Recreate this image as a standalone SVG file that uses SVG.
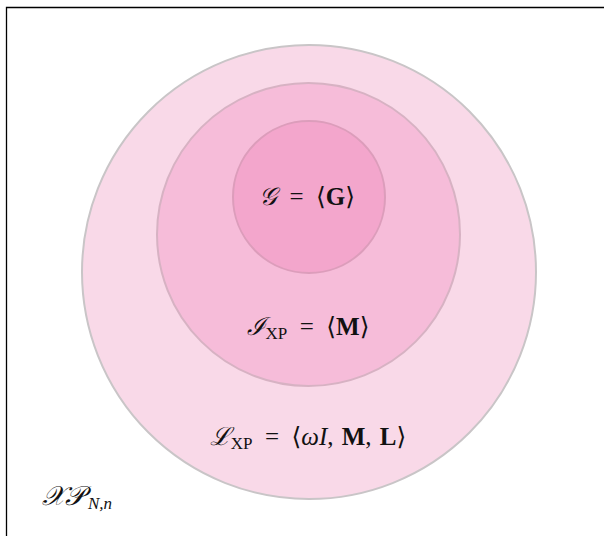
<svg xmlns="http://www.w3.org/2000/svg" width="604" height="536" viewBox="0 0 604 536">
<style>
.m{font-family:"Liberation Serif","DejaVu Serif",serif;font-size:25px;fill:#111}
.b{font-weight:bold}
.s{font-family:"Liberation Serif",serif;font-size:17px}
.sc{font-family:"DejaVu Serif",serif;font-style:italic}
</style>
<rect x="0" y="0" width="604" height="536" fill="#fff"/>
<path d="M6.5 536 V7.5 H604" fill="none" stroke="#000" stroke-width="1.3"/>
<g id="outer">
<circle cx="309" cy="272" r="227" fill="#f9d9e8" stroke="#c9c5c7" stroke-width="2"/>
<text class="m" x="308" y="445" text-anchor="middle"><tspan class="sc">ℒ</tspan><tspan class="s" dy="4">XP</tspan><tspan dy="-4" xml:space="preserve">  =  ⟨</tspan><tspan font-style="italic">ωI</tspan><tspan xml:space="preserve">, </tspan><tspan class="b" dx="2">M</tspan><tspan xml:space="preserve">, </tspan><tspan class="b" dx="2">L</tspan><tspan>⟩</tspan></text>
</g>
<g id="middle">
<circle cx="308.5" cy="234.5" r="151.5" fill="#f6bcd9" stroke="#d7b2c3" stroke-width="2"/>
<text class="m" x="308" y="335" text-anchor="middle"><tspan class="sc">ℐ</tspan><tspan class="s" dy="4">XP</tspan><tspan dy="-4" xml:space="preserve">  =  ⟨</tspan><tspan class="b">M</tspan><tspan>⟩</tspan></text>
</g>
<g id="inner">
<circle cx="309" cy="197" r="76" fill="#f3a6cc" stroke="#dc9dbb" stroke-width="2"/>
<text class="m" x="307" y="205" text-anchor="middle" xml:space="preserve"><tspan class="sc">𝒢</tspan>  =  ⟨<tspan class="b">G</tspan>⟩</text>
</g>
<g id="space">
<text class="m" x="42" y="505"><tspan class="sc" font-size="27">𝒳𝒫</tspan><tspan class="s" font-style="italic" dx="4" dy="4">N,n</tspan></text>
</g>
</svg>
